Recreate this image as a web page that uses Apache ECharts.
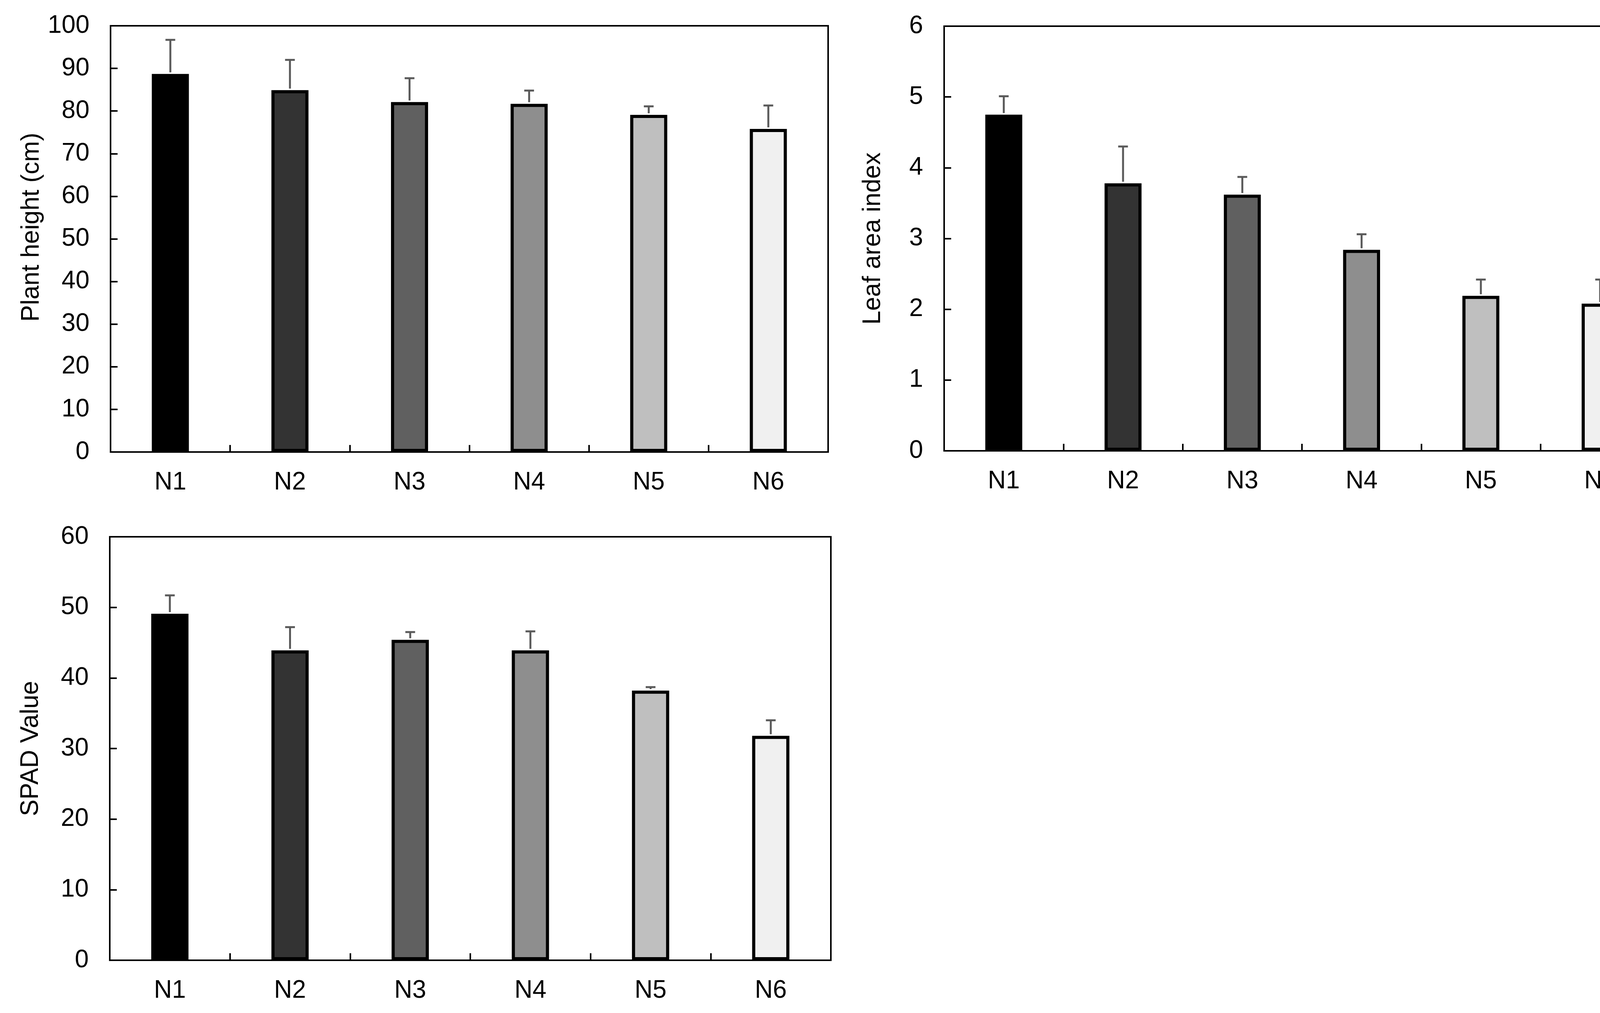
<!DOCTYPE html>
<html>
<head>
<meta charset="utf-8">
<script src="https://cdn.jsdelivr.net/npm/echarts@6/dist/echarts.min.js"></script>
<style>
html,body{margin:0;padding:0;background:#fff;}
#chart{width:4284px;height:2593px;}
</style>
</head>
<body>
<div id="chart"></div>
<script>
const categories = ['N1', 'N2', 'N3', 'N4', 'N5', 'N6'];
const plantHeight = [88.7, 84.9, 82.1, 81.7, 79.1, 75.8];
const plantHeightErr = [8.0, 7.1, 5.6, 3.1, 2.0, 5.5];
const leafAreaIndex = [4.75, 3.78, 3.62, 2.84, 2.19, 2.08];
const leafAreaIndexErr = [0.26, 0.52, 0.25, 0.22, 0.23, 0.34];
const spadValue = [49.1, 43.9, 45.4, 43.9, 38.2, 31.8];
const spadValueErr = [2.6, 3.3, 1.1, 2.7, 0.5, 2.2];
const barColors = ['#000000', '#333333', '#606060', '#8e8e8e', '#bfbfbf', '#f0f0f0'];

const FONT = "'Liberation Sans', Arial, sans-serif";
const FS = 64;

const grids = [
  {left: 283, top: 66, width: 1837, height: 1091},
  {left: 2417, top: 67, width: 1832, height: 1087},
  {left: 281, top: 1374, width: 1846, height: 1084}
];

function xAxis(gi) {
  return {
    type: 'category', gridIndex: gi, data: categories, boundaryGap: true,
    axisLine: {show: true, lineStyle: {color: '#000', width: 4}},
    axisTick: {show: true, inside: true, length: 18, lineStyle: {color: '#000', width: 4}},
    axisLabel: {color: '#000', fontFamily: FONT, fontSize: FS, margin: 46},
    splitLine: {show: false}
  };
}
function yAxis(gi, name, max, interval, gap, pad) {
  return {
    type: 'value', gridIndex: gi, min: 0, max: max, interval: interval,
    name: name, nameLocation: 'middle', nameRotate: 90, nameGap: gap,
    nameTextStyle: {color: '#000', fontFamily: FONT, fontSize: FS, padding: pad},
    axisLine: {show: true, lineStyle: {color: '#000', width: 4}},
    axisTick: {show: true, inside: true, length: 18, lineStyle: {color: '#000', width: 4}},
    axisLabel: {color: '#000', fontFamily: FONT, fontSize: FS, margin: 54},
    splitLine: {show: false}
  };
}
function barSeries(gi, vals) {
  return {
    type: 'bar', xAxisIndex: gi, yAxisIndex: gi, barWidth: '31%',
    data: vals.map((v, i) => ({
      value: v,
      itemStyle: {color: barColors[i], borderColor: '#000', borderWidth: 8}
    })),
    z: 2
  };
}
function errSeries(gi, vals, errs) {
  return {
    type: 'custom', xAxisIndex: gi, yAxisIndex: gi, z: 3,
    data: vals.map((v, i) => [i, v, errs[i]]),
    renderItem: function (params, api) {
      const x = api.value(0), y = api.value(1), e = api.value(2);
      const p0 = api.coord([x, y]);
      const p1 = api.coord([x, y + e]);
      const st = {stroke: '#5a5a5a', lineWidth: 5};
      return {
        type: 'group',
        children: [
          {type: 'line', shape: {x1: p0[0], y1: p0[1] - 4, x2: p1[0], y2: p1[1]}, style: st},
          {type: 'line', shape: {x1: p1[0] - 12.5, y1: p1[1], x2: p1[0] + 12.5, y2: p1[1]}, style: st}
        ]
      };
    }
  };
}

const chart = echarts.init(document.getElementById('chart'), null, {renderer: 'canvas'});
chart.setOption({
  backgroundColor: '#fff',
  animation: false,
  grid: grids.map(g => Object.assign({show: true, borderColor: '#000', borderWidth: 4, backgroundColor: 'transparent'}, g)),
  xAxis: [xAxis(0), xAxis(1), xAxis(2)],
  yAxis: [
    yAxis(0, 'Plant height (cm)', 100, 10, 170, [0, 0, 0, 60]),
    yAxis(1, 'Leaf area index', 6, 1, 150, 0),
    yAxis(2, 'SPAD Value', 60, 10, 170, 0)
  ],
  series: [
    barSeries(0, plantHeight), errSeries(0, plantHeight, plantHeightErr),
    barSeries(1, leafAreaIndex), errSeries(1, leafAreaIndex, leafAreaIndexErr),
    barSeries(2, spadValue), errSeries(2, spadValue, spadValueErr)
  ]
});
</script>
</body>
</html>
